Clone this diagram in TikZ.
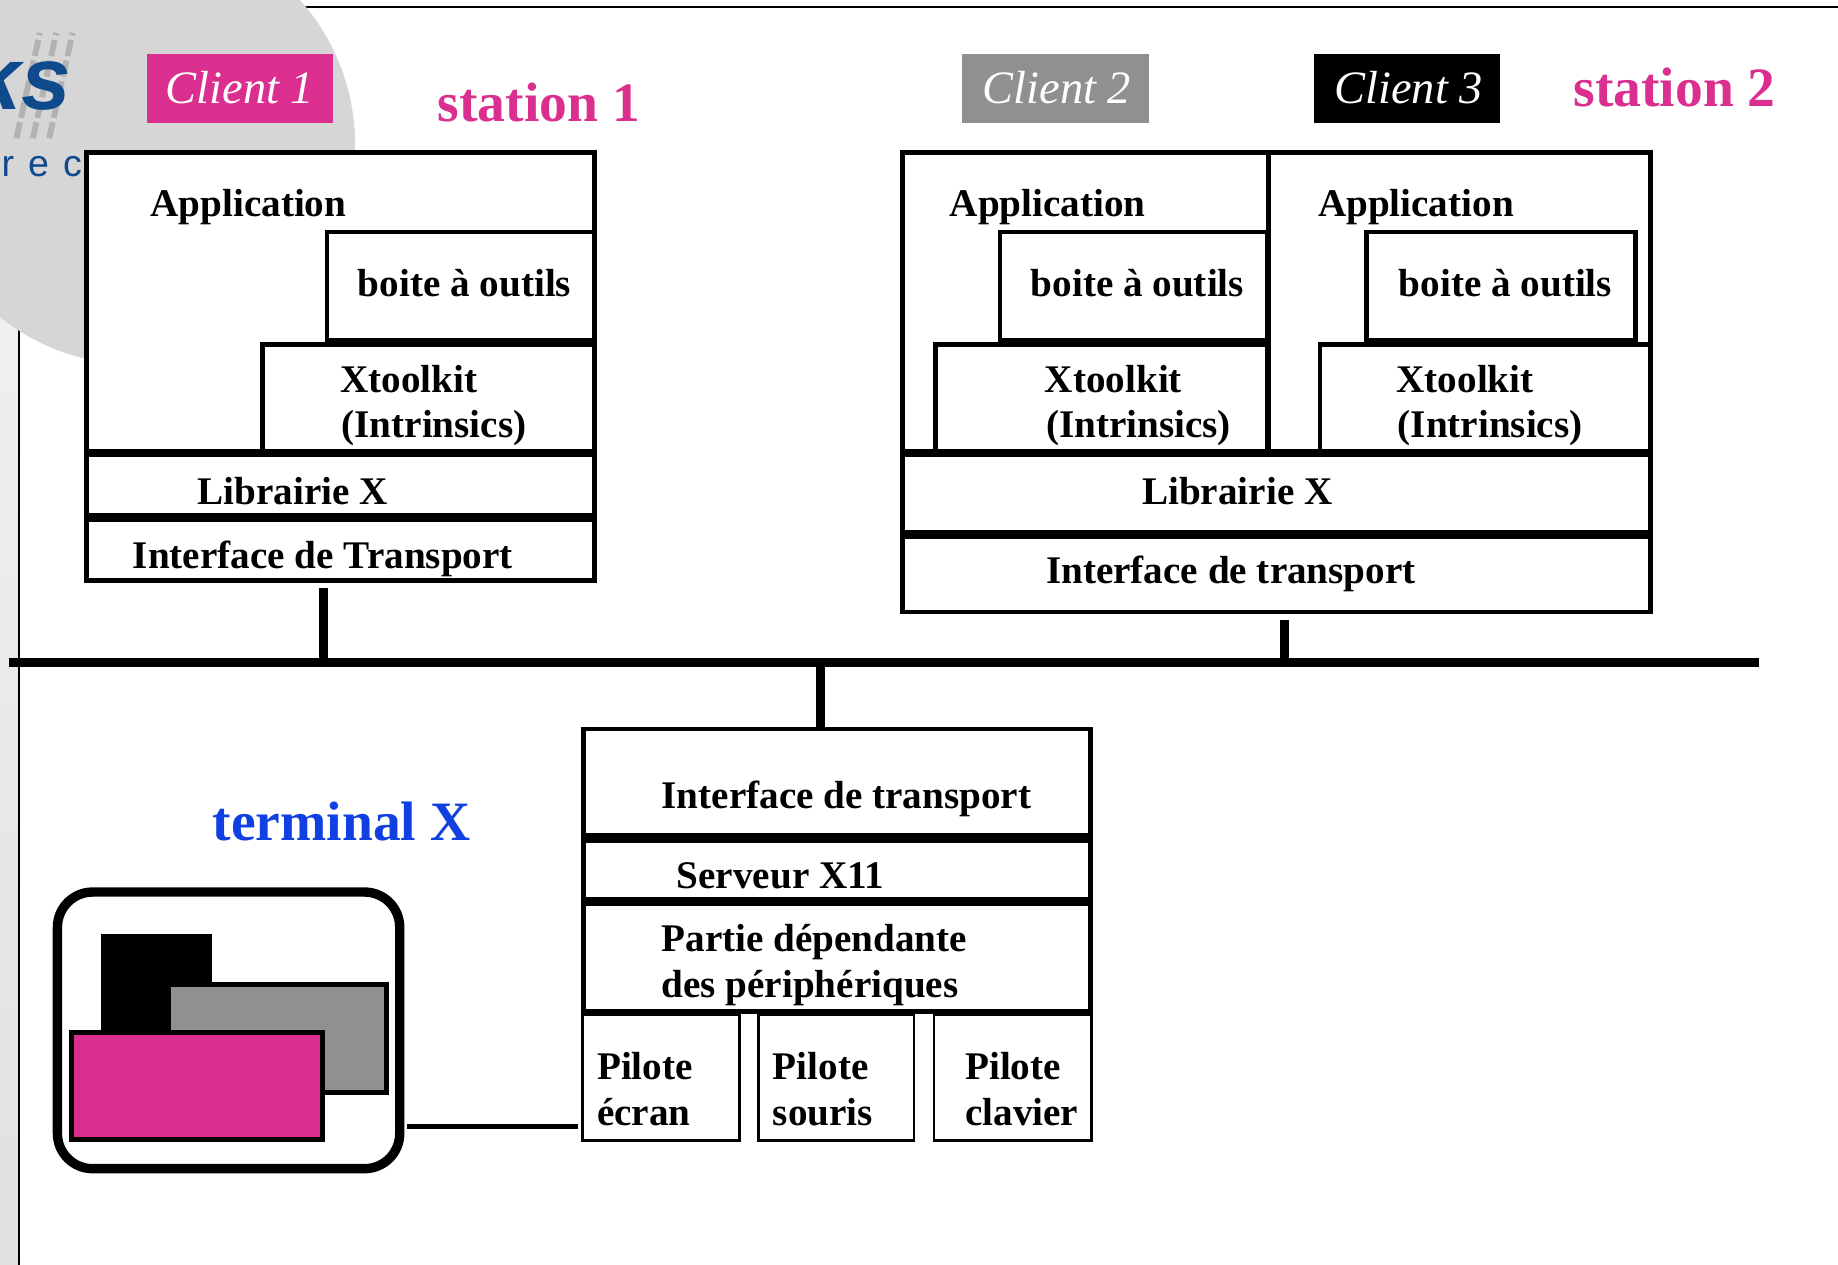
\documentclass[tikz,border=0pt]{standalone}
\usepackage{fontspec}
\setmainfont{Liberation Serif}
\newfontfamily\logofont{Liberation Sans}
\usetikzlibrary{fit,shadings}
\definecolor{stationpink}{RGB}{219,47,143}
\definecolor{termblue}{RGB}{16,64,226}
\definecolor{logoblue}{RGB}{14,74,140}
\definecolor{clientgray}{RGB}{144,144,144}
\definecolor{cornergray}{RGB}{214,214,214}
\tikzset{
    stackbox/.style={draw, line width=2pt, fill=white, inner sep=0pt},
    pilotbox/.style={draw, line width=1pt, fill=white, inner sep=0pt},
    clientbox/.style={inner sep=0pt},
    txt/.style={anchor=base west, inner sep=0pt, yshift=-0.5pt, font=\fontsize{16.7}{19.5}\selectfont\bfseries},
    clienttxt/.style={anchor=base west, inner sep=0pt, text=white, font=\fontsize{19.8}{22}\selectfont\itshape},
    bigtxt/.style={anchor=base west, inner sep=0pt, yshift=-0.5pt, font=\fontsize{23.7}{28}\selectfont\bfseries},
    busline/.style={line width=4pt},
}
\begin{document}
\begin{tikzpicture}[x=0.5pt,y=-0.5pt]
    \useasboundingbox (0,0) rectangle (1568,1079);

    % Slide background
    \shade[top color=white!96!black, bottom color=white!88!black, draw=none] (0,0) rectangle (16,1079);
    \draw[line width=1pt] (16,0) -- (16,1079);
    \draw[line width=1pt] (16,6) -- (1568,6);
    \fill[cornergray] (116,124) circle (187);

    % Logo
    \foreach \lx in {34,48,62}
        \draw[gray!60, line width=2.5pt, dash pattern=on 7pt off 2pt] (\lx-20,118) -- (\lx,28);
    \node[anchor=base east, inner sep=0pt, text=logoblue, font=\fontsize{38}{40}\selectfont\logofont\bfseries\itshape] (logoks) at (61,93) {ks};
    \node[anchor=base west, inner sep=0pt, text=logoblue, font=\fontsize{16}{18}\selectfont\logofont] (logorec) at (1,151) {r\hspace{6pt}e\hspace{6pt}c};

    % Clients
    \node[clientbox, fill=stationpink, fit={(125,46) (284,105)}] (clientA) {};
    \node[clientbox, fill=clientgray, fit={(821,46) (980,105)}] (clientB) {};
    \node[clientbox, fill=black, fit={(1121,46) (1280,105)}] (clientC) {};
    \node[clienttxt] (clientAt) at (141,88) {Client 1};
    \node[clienttxt] (clientBt) at (838,88) {Client 2};
    \node[clienttxt] (clientCt) at (1138,88) {Client 3};
    \node[bigtxt, text=stationpink] (stationA) at (373,103) {station 1};
    \node[bigtxt, text=stationpink] (stationB) at (1342,90) {station 2};

    % Station 1
    \node[stackbox, fit={(74,130) (507,385)}] (appA) {};
    \node[stackbox, fit={(279,198) (507,290)}] (toolsA) {};
    \node[stackbox, fit={(224,294) (507,385)}] (intrA) {};
    \node[stackbox, fit={(74,388) (507,440)}] (libA) {};
    \node[stackbox, fit={(74,443) (507,495)}] (xferA) {};
    \node[txt] (appAt) at (128,184) {Application};
    \node[txt] (toolsAt) at (305,252) {boite à outils};
    \node[txt] (intrAt) at (290,334) {Xtoolkit};
    \node[txt] (intrAu) at (291,372) {(Intrinsics)};
    \node[txt] (libAt) at (168,429) {Librairie X};
    \node[txt] (xferAt) at (113,484) {Interface de Transport};

    % Station 2
    \node[stackbox, fit={(770,130) (1082,385)}] (appB) {};
    \node[stackbox, fit={(853,198) (1081,290)}] (toolsB) {};
    \node[stackbox, fit={(798,294) (1081,385)}] (intrB) {};
    \node[stackbox, fit={(1082,130) (1408,385)}] (appC) {};
    \node[stackbox, fit={(1166,198) (1395,290)}] (toolsC) {};
    \node[stackbox, fit={(1126,294) (1408,385)}] (intrC) {};
    \node[stackbox, fit={(770,388) (1408,454)}] (libB) {};
    \node[stackbox, fit={(770,458) (1408,522)}] (xferB) {};
    \node[txt] (appBt) at (810,184) {Application};
    \node[txt] (toolsBt) at (879,252) {boite à outils};
    \node[txt] (intrBt) at (891,334) {Xtoolkit};
    \node[txt] (intrBu) at (892,372) {(Intrinsics)};
    \node[txt] (appCt) at (1124,184) {Application};
    \node[txt] (toolsCt) at (1193,252) {boite à outils};
    \node[txt] (intrCt) at (1191,334) {Xtoolkit};
    \node[txt] (intrCu) at (1192,372) {(Intrinsics)};
    \node[txt] (libBt) at (974,429) {Librairie X};
    \node[txt] (xferBt) at (892,497) {Interface de transport};

    % Terminal stack
    \node[stackbox, fit={(498,622) (930,713)}] (xferT) {};
    \node[stackbox, fit={(498,717) (930,767)}] (serv) {};
    \node[stackbox, fit={(498,771) (930,863)}] (ddx) {};
    \node[pilotbox, fit={(497,866) (631,973)}] (pilA) {};
    \node[pilotbox, fit={(647,866) (780,973)}] (pilB) {};
    \node[pilotbox, fit={(797,866) (931,973)}] (pilC) {};
    \node[txt] (xferTt) at (564,689) {Interface de transport};
    \node[txt] (servt) at (577,757) {Serveur X11};
    \node[txt] (ddxt) at (564,811) {Partie dépendante};
    \node[txt] (ddxu) at (564,850) {des périphériques};
    \node[txt] (pilAt) at (509,920) {Pilote};
    \node[txt] (pilAu) at (509,959) {écran};
    \node[txt] (pilBt) at (659,920) {Pilote};
    \node[txt] (pilBu) at (659,959) {souris};
    \node[txt] (pilCt) at (823,920) {Pilote};
    \node[txt] (pilCu) at (823,959) {clavier};

    % Terminal X
    \node[bigtxt, text=termblue] (termt) at (181,716) {terminal X};
    \node[draw, line width=4pt, rounded corners=15pt, inner sep=0pt, fit={(49,761) (341,997)}] (term) {};
    \node[fill=black, inner sep=0pt, fit={(86,797) (181,885)}] (winC) {};
    \node[draw, line width=2pt, fill=clientgray, inner sep=0pt, fit={(144,840) (330,932)}] (winB) {};
    \node[draw, line width=2pt, fill=stationpink, inner sep=0pt, fit={(61,881) (275,972)}] (winA) {};

    % Network
    \coordinate (busL) at (8,565);
    \coordinate (busR) at (1501,565);
    \coordinate (tapA) at (276,565);
    \coordinate (tapB) at (1096,565);
    \coordinate (tapT) at (700,565);
    \coordinate (termlink) at (0,961);
    \draw[busline] (busL) -- (busR);
    \draw[busline, shorten <=2.5pt] (xferA.south -| tapA) -- (tapA);
    \draw[busline, shorten <=2.5pt] (xferB.south -| tapB) -- (tapB);
    \draw[busline] (xferT.north -| tapT) -- (tapT);
    \draw[line width=2pt, shorten <=1pt, shorten >=1.5pt] (term.east |- termlink) -- (pilA.west |- termlink);
\end{tikzpicture}
\end{document}
